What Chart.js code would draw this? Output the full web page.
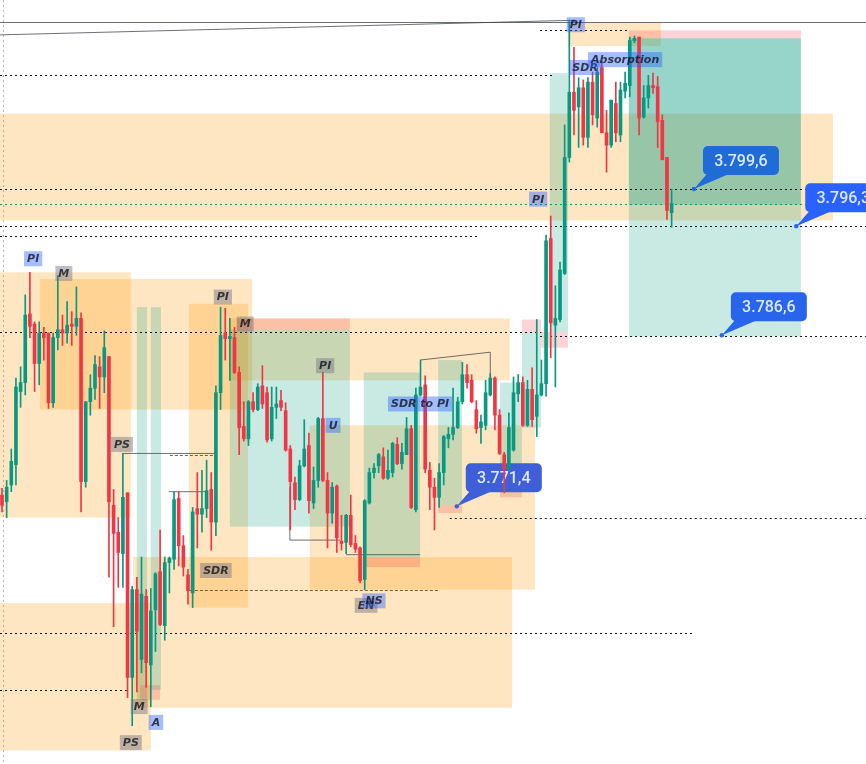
<!DOCTYPE html>
<html>
<head>
<meta charset="utf-8">
<script src="https://cdn.jsdelivr.net/npm/chart.js@4.4.1/dist/chart.umd.min.js"></script>
<style>
html, body { margin: 0; padding: 0; background: #fff; }
#wrap { width: 866px; height: 764px; position: relative; }
</style>
</head>
<body>
<div id="wrap"><canvas id="priceChart"></canvas></div>
<script>
// candles (one per bar, left to right)
const opens = [3772.4,3771.8,3773.3,3775.1,3781.6,3782.4,3788.5,3787.6,3784.1,3786.8,
  3786.8,3780.6,3786.4,3787.1,3786.8,3787.6,3787.4,3788.1,3773.6,3780.7,
  3781.9,3783.8,3782.9,3784.7,3771.5,3769.1,3767.2,3772.6,3756.2,3764.0,
  3757.8,3763.4,3757.3,3762.2,3765.6,3760.8,3766.4,3766.7,3772.1,3767.9,
  3765.3,3763.7,3771.2,3770.7,3771.2,3772.9,3770.0,3781.5,3786.8,3786.3,
  3786.4,3783.3,3778.5,3777.4,3780.7,3780.0,3782.1,3781.5,3777.4,3780.2,
  3780.8,3779.9,3776.5,3773.5,3772.0,3775.0,3776.8,3771.7,3773.7,3779.2,
  3773.7,3770.8,3773.2,3768.3,3768.2,3770.6,3768.1,3767.7,3764.9,3771.7,
  3774.4,3775.0,3775.8,3773.9,3774.4,3776.9,3775.2,3776.0,3778.3,3771.1,
  3781.3,3782.2,3774.6,3773.1,3772.2,3774.4,3777.4,3777.8,3778.4,3780.7,
  3783.1,3782.6,3780.0,3778.4,3778.6,3781.3,3782.8,3779.5,3776.0,3774.8,
  3776.4,3781.4,3782.4,3778.6,3781.8,3779.4,3781.3,3782.3,3795.2,3787.5,
  3788.0,3792.1,3802.4,3808.2,3806.9,3808.6,3804.2,3809.1,3805.9,3810.4,
  3804.6,3803.5,3807.2,3804.4,3808.3,3808.8,3812.8,3813.1,3806.0,3807.7,
  3808.8,3808.7,3805.7,3802.4,3797.5];
const highs = [3773.0,3773.7,3776.5,3782.8,3783.8,3790.2,3792.2,3787.8,3787.8,3787.3,
  3786.8,3786.8,3791.9,3788.4,3789.6,3788.7,3790.9,3788.6,3780.7,3783.1,
  3784.8,3784.7,3787.0,3784.7,3772.9,3770.4,3776.1,3772.6,3764.3,3765.1,
  3766.9,3764.0,3764.1,3765.5,3769.3,3766.9,3766.9,3772.7,3772.7,3768.8,
  3765.8,3771.3,3774.4,3774.6,3775.5,3774.4,3782.1,3789.1,3789.0,3788.1,
  3787.3,3783.8,3780.7,3780.8,3781.5,3782.3,3783.9,3782.0,3782.0,3782.0,
  3781.7,3780.6,3776.8,3774.0,3775.5,3779.1,3777.9,3774.9,3779.3,3783.3,
  3774.4,3773.5,3773.3,3770.6,3770.7,3772.4,3768.8,3767.8,3772.0,3774.8,
  3775.2,3776.1,3776.6,3776.4,3777.1,3777.5,3777.0,3779.3,3778.6,3781.9,
  3784.4,3783.0,3775.3,3773.9,3775.2,3777.7,3778.4,3781.9,3781.1,3784.2,
  3784.0,3783.1,3780.8,3779.5,3782.6,3783.2,3782.9,3780.0,3776.2,3779.7,
  3782.9,3783.1,3782.9,3782.6,3783.7,3788.0,3784.4,3795.5,3797.2,3791.0,
  3793.1,3805.3,3814.6,3812.2,3809.5,3809.3,3809.5,3810.0,3810.4,3810.8,
  3806.6,3807.5,3809.1,3809.1,3810.0,3813.1,3813.2,3813.1,3808.8,3809.7,
  3809.9,3809.6,3806.2,3802.4,3799.6];
const lows = [3770.9,3770.4,3772.7,3773.3,3780.2,3781.3,3786.4,3781.6,3782.2,3784.4,
  3780.1,3780.2,3785.3,3785.7,3785.9,3785.7,3786.6,3770.9,3773.1,3779.5,
  3780.9,3780.1,3781.5,3765.1,3760.7,3764.2,3764.2,3754.4,3751.9,3754.9,
  3756.6,3755.3,3753.6,3758.5,3760.8,3759.5,3763.7,3765.8,3766.1,3765.2,
  3762.7,3762.4,3767.7,3769.1,3770.4,3767.5,3768.8,3780.0,3784.4,3782.6,
  3783.2,3776.0,3777.2,3776.8,3779.8,3779.9,3780.1,3777.1,3777.2,3779.2,
  3779.9,3776.3,3769.3,3771.1,3771.9,3774.9,3770.8,3771.2,3773.1,3773.6,
  3767.7,3769.9,3767.3,3767.5,3767.2,3767.8,3767.3,3764.6,3764.0,3771.6,
  3773.9,3774.4,3773.8,3773.8,3774.0,3775.1,3774.7,3776.0,3771.2,3770.9,
  3781.2,3774.4,3771.1,3769.3,3771.3,3773.3,3776.6,3777.3,3778.3,3780.5,
  3781.9,3780.6,3777.9,3777.0,3778.2,3781.2,3778.2,3776.0,3772.6,3774.6,
  3776.3,3780.7,3778.5,3778.5,3778.5,3777.6,3781.2,3781.2,3784.6,3782.0,
  3787.8,3792.0,3802.0,3804.4,3803.3,3803.5,3803.3,3805.3,3805.1,3804.6,
  3801.1,3803.3,3803.8,3803.8,3807.7,3807.8,3812.6,3804.4,3805.9,3806.8,
  3808.1,3803.3,3802.2,3796.9,3796.2];
const closes = [3771.5,3773.1,3775.4,3782.0,3782.4,3788.4,3787.4,3784.1,3786.8,3786.4,
  3780.6,3786.4,3787.1,3786.8,3787.5,3787.4,3788.1,3773.6,3780.7,3781.9,
  3784.0,3782.9,3785.5,3771.8,3769.0,3767.3,3772.2,3756.2,3764.0,3760.3,
  3763.6,3757.5,3762.1,3765.4,3760.9,3766.4,3766.8,3772.0,3767.9,3766.0,
  3763.9,3770.9,3770.7,3771.2,3772.8,3770.0,3781.5,3786.6,3786.3,3786.5,
  3783.3,3778.4,3777.4,3780.7,3780.0,3782.0,3780.5,3777.3,3780.2,3780.5,
  3780.2,3776.4,3773.6,3772.0,3775.0,3776.5,3771.9,3773.7,3779.2,3773.7,
  3770.8,3773.1,3768.6,3768.1,3770.6,3768.0,3767.6,3764.8,3771.9,3774.4,
  3774.8,3776.0,3773.9,3774.6,3777.0,3775.2,3776.2,3778.3,3771.3,3781.3,
  3782.0,3774.7,3773.1,3772.2,3774.4,3777.6,3777.8,3778.4,3780.7,3783.1,
  3782.4,3780.7,3778.3,3778.9,3781.5,3782.8,3779.5,3776.1,3774.7,3778.4,
  3781.5,3782.4,3778.6,3781.8,3779.1,3781.3,3782.3,3795.0,3787.7,3788.1,
  3792.4,3802.4,3808.2,3806.6,3808.6,3804.2,3809.1,3806.2,3810.0,3804.6,
  3803.5,3807.5,3804.6,3808.4,3809.0,3812.8,3813.0,3805.9,3807.7,3808.8,
  3808.6,3805.6,3802.2,3797.7,3798.3];

// visible window: bar index range and price range
const xMin = -0.43, xMax = 185.8;
const yMin = 3748.5, yMax = 3816.4;

// zones: [fromBar, toBar, topPrice, bottomPrice]
const orangeZones = [
  [-0.43, 27.7, 3792.2, 3770.4], [8.2, 53.8, 3791.6, 3780.0], [40.2, 52.9, 3789.4, 3762.4],
  [28.2, 109.7, 3766.9, 3753.5], [-0.43, 32.0, 3762.8, 3749.7], [49.0, 109.2, 3788.1, 3782.6],
  [66.2, 114.6, 3778.6, 3764.0], [-0.43, 178.7, 3806.3, 3796.8], [121.7, 141.7, 3814.4, 3812.3]
];
const tealZones = [
  [49.0, 74.8, 3787.1, 3769.6], [77.8, 89.9, 3783.3, 3766.8], [93.8, 98.9, 3784.4, 3771.5],
  [107.1, 111.8, 3782.4, 3772.7], [111.8, 115.9, 3786.8, 3778.4], [117.8, 121.7, 3809.9, 3786.9],
  [29.0, 31.2, 3789.1, 3754.2], [32.0, 34.2, 3789.1, 3755.1], [134.8, 171.8, 3798.2, 3786.5]
];
const deepTealZones = [[134.8, 171.8, 3813.0, 3798.2]];
const pinkZones = [
  [50.5, 74.8, 3788.1, 3787.1], [77.8, 89.9, 3766.8, 3766.0], [93.8, 98.9, 3771.5, 3770.8],
  [107.1, 111.8, 3772.7, 3772.2], [111.8, 115.9, 3788.0, 3786.8], [115.9, 121.7, 3786.9, 3785.5],
  [134.8, 171.8, 3813.7, 3813.0], [29.7, 34.0, 3755.5, 3754.2]
];

// horizontal lines: [price, fromBar, toBar]
const dottedLines = [
  [3809.7, -0.43, 118.9], [3799.6, -0.43, 185.8], [3796.3, -0.43, 185.8], [3795.4, -0.43, 102.8],
  [3786.9, -0.43, 116.0], [3786.5, 115.7, 185.8], [3770.4, 96.3, 185.8], [3760.1, -0.43, 148.6],
  [3755.1, -0.43, 27.5], [3813.7, 115.7, 135.0]
];
const tealDottedLines = [[3798.3, -0.43, 185.8]];
const dashedLines = [[3764.0, 40.4, 94.2], [3776.0, 36.1, 45.8]];
// segments: [bar0, price0, bar1, price1]
const solidLines = [
  [-0.43, 3814.4, 185.8, 3814.4], [-0.43, 3813.3, 123.2, 3814.6],
  [25.8, 3776.1, 45.8, 3776.1], [35.9, 3772.7, 44.1, 3772.7],
  [61.9, 3773.1, 61.9, 3768.4], [61.9, 3768.4, 72.7, 3768.4],
  [74.0, 3767.1, 89.9, 3767.1], [89.9, 3784.4, 105.0, 3785.1], [105.0, 3785.1, 105.0, 3782.7]
];

// pattern tags
const tagTexts = ['PI','M','PI','M','PS','PI','U','SDR to PI','SDR','EN','NS','M','A','PS','PI','PI','SDR','Absorption'];
const tagBars = [6.7,13.3,47.5,52.3,25.8,69.5,71.2,89.9,46.0,78.3,80.0,29.5,33.1,27.7,115.3,123.4,125.4,134.0];
const tagPrices = [3793.4,3792.1,3790.0,3787.6,3776.9,3783.9,3778.6,3780.5,3765.7,3762.6,3763.0,3753.6,3752.2,3750.4,3798.7,3814.2,3810.4,3811.1];
const tagKinds = ['b','g','g','g','g','g','b','b','g','g','b','g','b','g','b','b','b','b'];

// price callouts
const calloutPrices = [3771.4, 3799.6, 3786.6, 3796.3];
const calloutBars = [97.8, 148.8, 154.8, 170.8];
const calloutColors = ['#3f5fd8', '#1f6bd8', '#2865ec', '#2962ff'];

const UP = '#089981', DOWN = '#f23645';

function formatPrice(v) {
  const parts = v.toFixed(1).split('.');
  const whole = parts[0].replace(/\B(?=(\d{3})+(?!\d))/g, '.');
  return whole + ',' + parts[1];
}

function fillZones(ctx, xs, ys, zones, color) {
  ctx.fillStyle = color;
  zones.forEach(z => {
    const x0 = xs.getPixelForValue(z[0]), x1 = xs.getPixelForValue(z[1]);
    const y0 = ys.getPixelForValue(z[2]), y1 = ys.getPixelForValue(z[3]);
    ctx.fillRect(x0, y0, x1 - x0, y1 - y0);
  });
}

function strokeHLines(ctx, xs, ys, lines, color, dash, width) {
  ctx.save();
  ctx.strokeStyle = color;
  ctx.lineWidth = width;
  ctx.setLineDash(dash);
  lines.forEach(l => {
    const y = Math.round(ys.getPixelForValue(l[0])) + 0.5;
    ctx.beginPath();
    ctx.moveTo(xs.getPixelForValue(l[1]), y);
    ctx.lineTo(xs.getPixelForValue(l[2]), y);
    ctx.stroke();
  });
  ctx.restore();
}

function drawCallout(ctx, x, y, text, color) {
  const w = 76, h = 29;
  const bx = x + 9, by = y - 43;
  ctx.fillStyle = color;
  ctx.beginPath();
  ctx.moveTo(bx + 4, by + h - 1);
  ctx.lineTo(bx + 26, by + h - 1);
  ctx.lineTo(x, y);
  ctx.closePath();
  ctx.fill();
  ctx.beginPath();
  ctx.roundRect(bx, by, w, h, 5);
  ctx.fill();
  ctx.beginPath();
  ctx.arc(x, y, 2.2, 0, Math.PI * 2);
  ctx.fill();
  ctx.fillStyle = '#dce8fb';
  ctx.font = '500 16px Roboto';
  ctx.textAlign = 'center';
  ctx.textBaseline = 'middle';
  ctx.fillText(text, bx + w / 2, by + h / 2 + 1);
}

function drawTag(ctx, x, y, text, kind) {
  ctx.font = 'italic bold 11px "DejaVu Sans"';
  const w = ctx.measureText(text).width + 6, h = 15;
  ctx.fillStyle = kind === 'b' ? 'rgba(41, 98, 255, 0.42)' : 'rgba(110, 112, 126, 0.45)';
  ctx.fillRect(x - w / 2, y - h / 2, w, h);
  ctx.fillStyle = 'rgba(15, 15, 25, 0.78)';
  ctx.textAlign = 'center';
  ctx.textBaseline = 'middle';
  ctx.fillText(text, x, y + 0.5);
}

const overlayPlugin = {
  id: 'overlay',
  beforeDatasetsDraw(chart) {
    const ctx = chart.ctx, xs = chart.scales.x, ys = chart.scales.y;
    ctx.save();
    // left edge marker
    ctx.strokeStyle = '#b2b5be';
    ctx.setLineDash([2, 3]);
    ctx.beginPath();
    ctx.moveTo(3.5, 0);
    ctx.lineTo(3.5, chart.height);
    ctx.stroke();
    ctx.setLineDash([]);
    fillZones(ctx, xs, ys, orangeZones, 'rgba(255, 152, 0, 0.24)');
    fillZones(ctx, xs, ys, tealZones, 'rgba(8, 153, 129, 0.22)');
    fillZones(ctx, xs, ys, deepTealZones, 'rgba(8, 153, 129, 0.42)');
    fillZones(ctx, xs, ys, pinkZones, 'rgba(242, 54, 69, 0.22)');
    strokeHLines(ctx, xs, ys, dottedLines, '#131722', [2, 3], 1);
    strokeHLines(ctx, xs, ys, tealDottedLines, '#089981', [2, 3], 1);
    strokeHLines(ctx, xs, ys, dashedLines, 'rgba(90, 60, 30, 0.8)', [3, 2], 1);
    ctx.strokeStyle = 'rgba(60, 64, 72, 0.75)';
    ctx.lineWidth = 1;
    solidLines.forEach(s => {
      ctx.beginPath();
      ctx.moveTo(xs.getPixelForValue(s[0]), ys.getPixelForValue(s[1]));
      ctx.lineTo(xs.getPixelForValue(s[2]), ys.getPixelForValue(s[3]));
      ctx.stroke();
    });
    calloutPrices.forEach((p, i) => {
      drawCallout(ctx, xs.getPixelForValue(calloutBars[i]), ys.getPixelForValue(p), formatPrice(p), calloutColors[i]);
    });
    ctx.restore();
  },
  afterDatasetsDraw(chart) {
    const ctx = chart.ctx, xs = chart.scales.x, ys = chart.scales.y;
    ctx.save();
    tagTexts.forEach((t, i) => {
      drawTag(ctx, xs.getPixelForValue(tagBars[i]), ys.getPixelForValue(tagPrices[i]), t, tagKinds[i]);
    });
    ctx.restore();
  }
};

const candleColors = closes.map((c, i) => c >= opens[i] ? UP : DOWN);
const wickData = highs.map((h, i) => ({ x: i, y: [lows[i], h] }));
const bodyData = opens.map((o, i) => ({ x: i, y: [o, closes[i]] }));

new Chart(document.getElementById('priceChart'), {
  type: 'bar',
  data: {
    datasets: [
      { label: 'wick', data: wickData, backgroundColor: candleColors, barThickness: 1, borderWidth: 0 },
      { label: 'body', data: bodyData, backgroundColor: candleColors, barThickness: 3, borderWidth: 0, minBarLength: 1 }
    ]
  },
  options: {
    responsive: true,
    maintainAspectRatio: false,
    animation: false,
    grouped: false,
    layout: { padding: 0 },
    plugins: { legend: { display: false }, tooltip: { enabled: false } },
    scales: {
      x: { type: 'linear', min: xMin, max: xMax, offset: false, display: false },
      y: { min: yMin, max: yMax, display: false }
    }
  },
  plugins: [overlayPlugin]
});
</script>
</body>
</html>
